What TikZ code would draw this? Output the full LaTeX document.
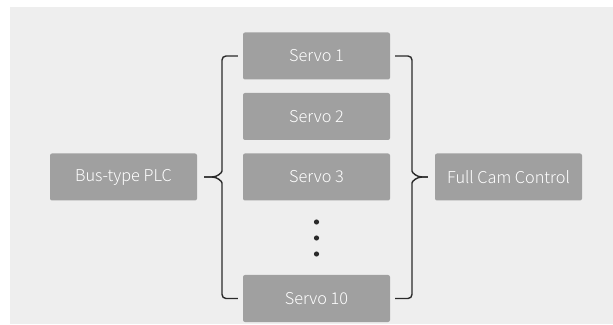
\documentclass[tikz,border=0pt]{standalone}
\usepackage{fontspec}
\setmainfont{Noto Sans CJK SC}[UprightFont=* Light]
\usetikzlibrary{calc}
\definecolor{bggray}{HTML}{EEEEEE}
\definecolor{boxgray}{HTML}{A0A0A0}
\definecolor{linegray}{HTML}{2A2A2A}
\tikzset{
  unit/.style={fill=boxgray,rounded corners=2pt,minimum width=147pt,minimum height=47pt,
    text=white,font=\fontsize{16.3pt}{18pt}\selectfont,inner sep=0pt},
  brace/.style={draw=linegray,line width=1.4pt,rounded corners=4pt}
}
\begin{document}
\begin{tikzpicture}[x=1pt,y=1pt]
    \useasboundingbox(0,0)rectangle(613,324);
    \fill[bggray](10,0)rectangle(613,317);
    % servos
    \node[unit](s1)at(316.5,268){Servo 1};
    \node[unit](s2)at(316.5,207.5){Servo 2};
    \node[unit](s3)at(316.5,147){Servo 3};
    \node[unit](s10)at(316.5,25.5){Servo 10};
    \node[unit](plc)at(123.5,147){Bus-type PLC};
    \node[unit](cam)at(508.5,147){Full Cam Control};
    \foreach \y in {102,86,70}
      \fill[linegray](316.5,\y)circle(2.6pt);
    % braces
    \coordinate(ltip)at($(plc.east)+(7,0)$);
    \coordinate(rtip)at($(cam.west)+(-7,0)$);
    \draw[brace]($(s1.west)+(-5,0)$)-|(222,157)to[out=-90,in=0,rounded corners=0](212,147)--(ltip);
    \draw[brace]($(s10.west)+(-5,0)$)-|(222,137)to[out=90,in=0,rounded corners=0](212,147)--(ltip);
    \draw[brace]($(s1.east)+(5,0)$)-|(412,157)to[out=-90,in=180,rounded corners=0](422,147)--(rtip);
    \draw[brace]($(s10.east)+(5,0)$)-|(412,137)to[out=90,in=180,rounded corners=0](422,147)--(rtip);
\end{tikzpicture}
\end{document}
